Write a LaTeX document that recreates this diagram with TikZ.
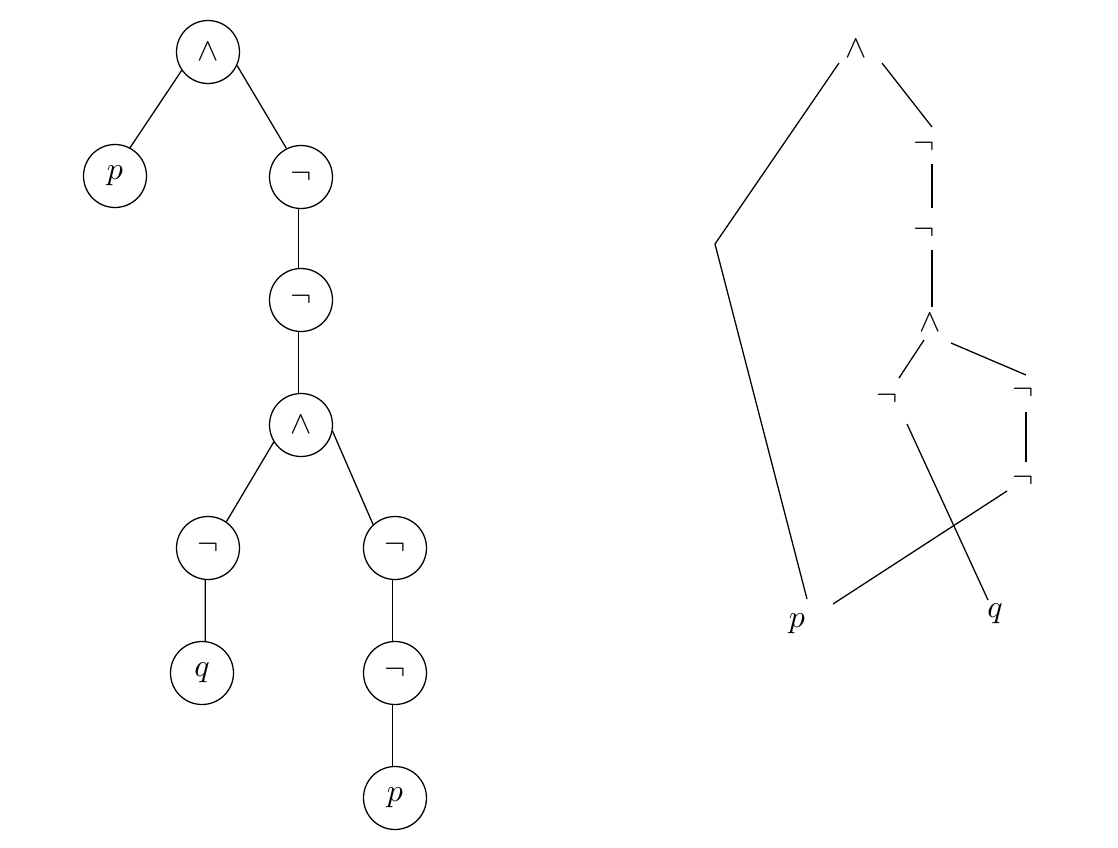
\documentclass[tikz,border=0pt]{standalone}
\begin{document}
\begin{tikzpicture}[x=0.011cm,y=-0.011cm,
  tnode/.style={circle,draw,minimum size=0.693cm,inner sep=0pt},
  rnode/.style={inner sep=0pt}]
\useasboundingbox (0,0) rectangle (1118,848);
% ---------- left: syntax tree ----------
\node[tnode] (tA)  at (208,52)  {$\wedge$};
\node[tnode] (tP)  at (115,176) {$p$};
\node[tnode] (tN1) at (301,177) {$\neg$};
\node[tnode] (tN2) at (301,300) {$\neg$};
\node[tnode] (tA2) at (301,425) {$\wedge$};
\node[tnode] (tNL) at (208,548) {$\neg$};
\node[tnode] (tNR) at (395,548) {$\neg$};
\node[tnode] (tQ)  at (202,673) {$q$};
\node[tnode] (tNB) at (395,673) {$\neg$};
\node[tnode] (tP2) at (395,798) {$p$};
\draw (tA.215.5) -- (tP.62.7);
\draw (tA.-25.8) -- (tN1.117.4);
\draw (tN1.-95.5) -- (tN2.95.5);
\draw (tN2.-95.5) -- (tA2.95.5);
\draw (tA2.212.7) -- (tNL.55.8);
\draw (tA2.-11.3) -- (tNR.133.7);
\draw (tNL.-95.5) -- (tQ.84.5);
\draw (tNR.-95.5) -- (tNB.95.5);
\draw (tNB.-95.5) -- (tP2.95.5);
% ---------- right: shared graph ----------
\node[rnode] (rA)  at (856,49)  {$\wedge$};
\node[rnode] (rN1) at (924,147) {$\neg$};
\node[rnode] (rN2) at (924,233) {$\neg$};
\node[rnode] (rA2) at (930,323) {$\wedge$};
\node[rnode] (rN3) at (887,399) {$\neg$};
\node[rnode] (rN4) at (1023,393) {$\neg$};
\node[rnode] (rN5) at (1023,481) {$\neg$};
\node[rnode] (rP)  at (797,624) {$p$};
\node[rnode] (rQ)  at (995,614) {$q$};
\coordinate (rC) at (715,244);
\draw ([shift={(-17,14)}]rA.center) -- (rC) -- ([shift={(10,-25)}]rP.center);
\draw ([shift={(26,14)}]rA.center) -- ([shift={(8,-20)}]rN1.center);
\draw ([shift={(8,17)}]rN1.center) -- ([shift={(8,-25)}]rN2.center);
\draw ([shift={(8,17)}]rN2.center) -- ([shift={(2,-16)}]rA2.center);
\draw ([shift={(-6,17)}]rA2.center) -- ([shift={(12,-21)}]rN3.center);
\draw ([shift={(21,20)}]rA2.center) -- ([shift={(3,-18)}]rN4.center);
\draw ([shift={(3,19)}]rN4.center) -- ([shift={(3,-19)}]rN5.center);
\draw ([shift={(-16,10)}]rN5.center) -- ([shift={(36,-20)}]rP.center);
\draw ([shift={(20,25)}]rN3.center) -- ([shift={(-7,-14)}]rQ.center);
\end{tikzpicture}
\end{document}
